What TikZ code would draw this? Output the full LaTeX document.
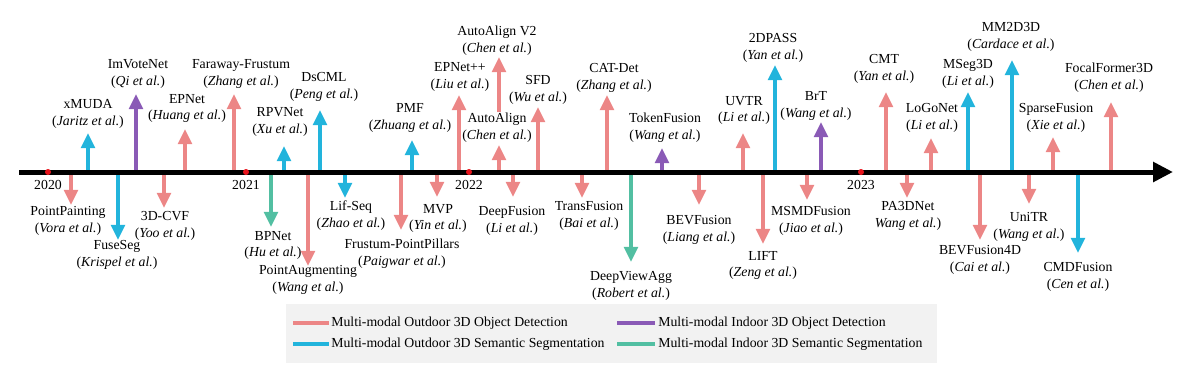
\documentclass[tikz,border=0pt]{standalone}
\usepackage{fontspec}
\setmainfont{Liberation Serif}
\usepackage{xcolor}
\usetikzlibrary{arrows.meta}

\definecolor{odetcol}{HTML}{EC8686}
\definecolor{osegcol}{HTML}{22B4DC}
\definecolor{idetcol}{HTML}{8A5AB6}
\definecolor{isegcol}{HTML}{52BFA2}
\definecolor{yearcol}{HTML}{E8141C}

\begin{document}
\begin{tikzpicture}[
    x=0.025cm, y=-0.025cm,
    lab/.style={align=center, inner sep=0pt, font=\fontsize{9.8}{12}\selectfont},
    ms/.style={line width=0.1cm, -{Triangle[length=0.38cm,width=0.34cm]}},
    odet/.style={ms, draw=odetcol, fill=odetcol},
    oseg/.style={ms, draw=osegcol, fill=osegcol},
    idet/.style={ms, draw=idetcol, fill=idetcol},
    iseg/.style={ms, draw=isegcol, fill=isegcol},
    key/.style={line width=0.1cm},
  ]
  \useasboundingbox (0,0) rectangle (1200,371);

  %% ---- milestones above the axis ----------------------------------------
  \node[lab] (xmuda) at (88,114) {xMUDA\\(\textit{Jaritz et al.})};
  \draw[oseg] (88,172) coordinate (xmuda-0) -- (88,133) coordinate (xmuda-1);
  \node[lab] (imvotenet) at (138,74) {ImVoteNet\\(\textit{Qi et al.})};
  \draw[idet] (136,172) coordinate (imvotenet-0) -- (136,94) coordinate (imvotenet-1);
  \node[lab] (epnet) at (187,108.5) {EPNet\\(\textit{Huang et al.})};
  \draw[odet] (185,172) coordinate (epnet-0) -- (185,129) coordinate (epnet-1);
  \node[lab] (faraway) at (241,74) {Faraway-Frustum\\(\textit{Zhang et al.})};
  \draw[odet] (234,172) coordinate (faraway-0) -- (234,94) coordinate (faraway-1);
  \node[lab] (rpvnet) at (280,122) {RPVNet\\(\textit{Xu et al.})};
  \draw[oseg] (284,172) coordinate (rpvnet-0) -- (284,146) coordinate (rpvnet-1);
  \node[lab] (dscml) at (324,87) {DsCML\\(\textit{Peng et al.})};
  \draw[oseg] (320,172) coordinate (dscml-0) -- (320,110) coordinate (dscml-1);
  \node[lab] (pmf) at (410,118) {PMF\\(\textit{Zhuang et al.})};
  \draw[oseg] (412,172) coordinate (pmf-0) -- (412,140) coordinate (pmf-1);
  \node[lab] (epnetpp) at (460,77) {EPNet++\\(\textit{Liu et al.})};
  \draw[odet] (459,172) coordinate (epnetpp-0) -- (459,95) coordinate (epnetpp-1);
  \node[lab] (autoalign) at (497,128) {AutoAlign\\(\textit{Chen et al.})};
  \draw[odet] (499,172) coordinate (autoalign-0) -- (499,145) coordinate (autoalign-1);
  \node[lab] (autoalignv2) at (497,40.5) {AutoAlign V2\\(\textit{Chen et al.})};
  \draw[odet] (499,112) coordinate (autoalignv2-0) -- (499,57) coordinate (autoalignv2-1);
  \node[lab] (sfd) at (538,89.5) {SFD\\(\textit{Wu et al.})};
  \draw[odet] (538,172) coordinate (sfd-0) -- (538,107) coordinate (sfd-1);
  \node[lab] (catdet) at (614,78) {CAT-Det\\(\textit{Zhang et al.})};
  \draw[odet] (607,172) coordinate (catdet-0) -- (607,95) coordinate (catdet-1);
  \node[lab] (tokenfusion) at (665,128) {TokenFusion\\(\textit{Wang et al.})};
  \draw[idet] (662,172) coordinate (tokenfusion-0) -- (662,148) coordinate (tokenfusion-1);
  \node[lab] (uvtr) at (744,110.5) {UVTR\\(\textit{Li et al.})};
  \draw[odet] (743,172) coordinate (uvtr-0) -- (743,133) coordinate (uvtr-1);
  \node[lab] (twodpass) at (773,47.5) {2DPASS\\(\textit{Yan et al.})};
  \draw[oseg] (775,172) coordinate (twodpass-0) -- (775,65) coordinate (twodpass-1);
  \node[lab] (brt) at (816,106) {BrT\\(\textit{Wang et al.})};
  \draw[idet] (821,172) coordinate (brt-0) -- (821,122) coordinate (brt-1);
  \node[lab] (cmt) at (884,69) {CMT\\(\textit{Yan et al.})};
  \draw[odet] (886,172) coordinate (cmt-0) -- (886,92) coordinate (cmt-1);
  \node[lab] (logonet) at (932,118) {LoGoNet\\(\textit{Li et al.})};
  \draw[odet] (931,172) coordinate (logonet-0) -- (931,138) coordinate (logonet-1);
  \node[lab] (mseg3d) at (968,74) {MSeg3D\\(\textit{Li et al.})};
  \draw[oseg] (968,172) coordinate (mseg3d-0) -- (968,92) coordinate (mseg3d-1);
  \node[lab] (mm2d3d) at (1011,37) {MM2D3D\\(\textit{Cardace et al.})};
  \draw[oseg] (1012,172) coordinate (mm2d3d-0) -- (1012,60) coordinate (mm2d3d-1);
  \node[lab] (sparsefusion) at (1056,118) {SparseFusion\\(\textit{Xie et al.})};
  \draw[odet] (1053,172) coordinate (sparsefusion-0) -- (1053,137) coordinate (sparsefusion-1);
  \node[lab] (focalformer) at (1109,78) {FocalFormer3D\\(\textit{Chen et al.})};
  \draw[odet] (1111,172) coordinate (focalformer-0) -- (1111,102) coordinate (focalformer-1);

  %% ---- milestones below the axis ----------------------------------------
  \node[lab] (pointpainting) at (68,220.5) {PointPainting\\(\textit{Vora et al.})};
  \draw[odet] (71,172) coordinate (pointpainting-0) -- (71,205) coordinate (pointpainting-1);
  \node[lab] (fuseseg) at (117,255) {FuseSeg\\(\textit{Krispel et al.})};
  \draw[oseg] (118,172) coordinate (fuseseg-0) -- (118,240) coordinate (fuseseg-1);
  \node[lab] (cvf) at (165,225.5) {3D-CVF\\(\textit{Yoo et al.})};
  \draw[odet] (164,172) coordinate (cvf-0) -- (164,208) coordinate (cvf-1);
  \node[lab] (bpnet) at (273,245.5) {BPNet\\(\textit{Hu et al.})};
  \draw[iseg] (271,172) coordinate (bpnet-0) -- (271,227) coordinate (bpnet-1);
  \node[lab] (pointaug) at (308,279.5) {PointAugmenting\\(\textit{Wang et al.})};
  \draw[odet] (308,172) coordinate (pointaug-0) -- (308,266) coordinate (pointaug-1);
  \node[lab] (lifseq) at (351,216) {Lif-Seq\\(\textit{Zhao et al.})};
  \draw[oseg] (345,172) coordinate (lifseq-0) -- (345,198) coordinate (lifseq-1);
  \node[lab] (fpp) at (402,253.5) {Frustum-PointPillars\\(\textit{Paigwar et al.})};
  \draw[odet] (401,172) coordinate (fpp-0) -- (401,230) coordinate (fpp-1);
  \node[lab] (mvp) at (438,218.5) {MVP\\(\textit{Yin et al.})};
  \draw[odet] (437,172) coordinate (mvp-0) -- (437,197) coordinate (mvp-1);
  \node[lab] (deepfusion) at (512,220.5) {DeepFusion\\(\textit{Li et al.})};
  \draw[odet] (513,172) coordinate (deepfusion-0) -- (513,197) coordinate (deepfusion-1);
  \node[lab] (transfusion) at (589,216) {TransFusion\\(\textit{Bai et al.})};
  \draw[odet] (582,172) coordinate (transfusion-0) -- (582,198) coordinate (transfusion-1);
  \node[lab] (deepviewagg) at (631,285.5) {DeepViewAgg\\(\textit{Robert et al.})};
  \draw[iseg] (631,172) coordinate (deepviewagg-0) -- (631,262) coordinate (deepviewagg-1);
  \node[lab] (bevfusion) at (699,229.5) {BEVFusion\\(\textit{Liang et al.})};
  \draw[odet] (699,172) coordinate (bevfusion-0) -- (699,205) coordinate (bevfusion-1);
  \node[lab] (lift) at (763,265.5) {LIFT\\(\textit{Zeng et al.})};
  \draw[odet] (763,172) coordinate (lift-0) -- (763,244) coordinate (lift-1);
  \node[lab] (msmdfusion) at (811,220.5) {MSMDFusion\\(\textit{Jiao et al.})};
  \draw[odet] (807,172) coordinate (msmdfusion-0) -- (807,200) coordinate (msmdfusion-1);
  \node[lab] (pa3dnet) at (908,216) {PA3DNet\\\textit{Wang et al.})};
  \draw[odet] (907,172) coordinate (pa3dnet-0) -- (907,198) coordinate (pa3dnet-1);
  \node[lab] (bevfusion4d) at (980,260) {BEVFusion4D\\(\textit{Cai et al.})};
  \draw[odet] (980,172) coordinate (bevfusion4d-0) -- (980,240) coordinate (bevfusion4d-1);
  \node[lab] (unitr) at (1029,226.5) {UniTR\\(\textit{Wang et al.})};
  \draw[odet] (1029,172) coordinate (unitr-0) -- (1029,204) coordinate (unitr-1);
  \node[lab] (cmdfusion) at (1078,277) {CMDFusion\\(\textit{Cen et al.})};
  \draw[oseg] (1078,172) coordinate (cmdfusion-0) -- (1078,253) coordinate (cmdfusion-1);

  %% ---- time axis and years ----------------------------------------------
  \draw[line width=0.125cm, -{Triangle[length=0.5cm,width=0.48cm]}]
    (19,172) coordinate (axis-0) -- (1173,172) coordinate (axis-1);
  \foreach \yx/\yr in {48/2020, 246/2021, 469/2022, 861/2023} {
    \fill[yearcol] (\yx,172) circle (0.075cm);
    \node[lab] (y\yr) at (\yx,185) {\yr};
  }

  %% ---- legend -------------------------------------------------------------
  \fill[black!5] (286,304) rectangle (937,363);
  \draw[key, odetcol] (293,323) coordinate (k1-0) -- (329,323) coordinate (k1-1);
  \node[lab, anchor=west] (k1) at (331,323) {Multi-modal Outdoor 3D Object Detection};
  \draw[key, osegcol] (293,344) coordinate (k2-0) -- (329,344) coordinate (k2-1);
  \node[lab, anchor=west] (k2) at (331,344) {Multi-modal Outdoor 3D Semantic Segmentation};
  \draw[key, idetcol] (617,323) coordinate (k3-0) -- (655,323) coordinate (k3-1);
  \node[lab, anchor=west] (k3) at (658,323) {Multi-modal Indoor 3D Object Detection};
  \draw[key, isegcol] (617,344) coordinate (k4-0) -- (655,344) coordinate (k4-1);
  \node[lab, anchor=west] (k4) at (658,344) {Multi-modal Indoor 3D Semantic Segmentation};
\end{tikzpicture}
\end{document}
